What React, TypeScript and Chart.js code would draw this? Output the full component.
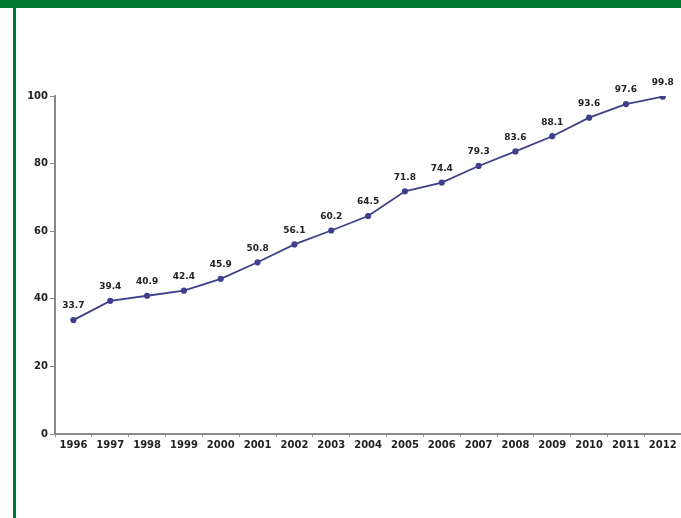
import React, { useEffect, useRef } from "react";
import { Chart, registerables } from "chart.js";

Chart.register(...registerables);

const years = ["1996","1997","1998","1999","2000","2001","2002","2003","2004","2005","2006","2007","2008","2009","2010","2011","2012"];
const values = [33.7, 39.4, 40.9, 42.4, 45.9, 50.8, 56.1, 60.2, 64.5, 71.8, 74.4, 79.3, 83.6, 88.1, 93.6, 97.6, 99.8];
const yTicks = [0, 20, 40, 60, 80, 100];

const LINE = "#3f3f8c";
const FONT = "'DejaVu Sans', sans-serif";

const labelPlugin = {
  id: "valueLabels",
  afterDatasetsDraw(chart: any) {
    const ctx = chart.ctx;
    const meta = chart.getDatasetMeta(0);
    ctx.save();
    ctx.font = `bold 9px ${FONT}`;
    ctx.fillStyle = "#222";
    ctx.textAlign = "center";
    ctx.textBaseline = "middle";
    meta.data.forEach((pt: any, i: number) => {
      ctx.fillText(values[i].toFixed(1), pt.x, pt.y - 14);
    });
    ctx.restore();
  },
};

export default function App() {
  const ref = useRef<HTMLCanvasElement>(null);
  useEffect(() => {
    document.body.style.margin = "0";
    const chart = new Chart(ref.current!, {
      type: "line",
      data: {
        labels: years,
        datasets: [
          {
            data: values,
            borderColor: LINE,
            backgroundColor: LINE,
            borderWidth: 1.8,
            pointRadius: 2.2,
            pointBackgroundColor: LINE,
            pointBorderColor: LINE,
            tension: 0,
          },
        ],
      },
      options: {
        animation: false,
        responsive: false,
        maintainAspectRatio: false,
        layout: { padding: { left: 20, top: 96, right: 0, bottom: 64 } },
        plugins: { legend: { display: false }, tooltip: { enabled: false } },
        scales: {
          x: {
            offset: true,
            grid: { display: true, drawOnChartArea: false, tickLength: 3, color: "#999", offset: true },
            border: { color: "#888", width: 2 },
            ticks: { font: { family: FONT, size: 10, weight: "bold" }, color: "#222", maxRotation: 0, autoSkip: false, padding: 2 },
            afterFit: (s: any) => { s.height = 20; },
          },
          y: {
            min: 0,
            max: 100,
            afterBuildTicks: (s: any) => { s.ticks = yTicks.map((v) => ({ value: v })); },
            grid: { display: true, drawOnChartArea: false, tickLength: 5, color: "#888" },
            border: { color: "#888", width: 2 },
            ticks: { font: { family: FONT, size: 10, weight: "bold" }, color: "#222", padding: 2 },
            afterFit: (s: any) => { s.width = 35; },
          },
        },
      },
      plugins: [labelPlugin],
    });
    return () => chart.destroy();
  }, []);
  return (
    <div style={{ position: "relative", width: 681, height: 518, background: "#fff", overflow: "hidden" }}>
      <canvas ref={ref} width={687} height={518} style={{ position: "absolute", left: 0, top: 0 }} />
      <div style={{ position: "absolute", left: 0, top: 0, width: 681, height: 8, background: "#007a33" }} />
      <div style={{ position: "absolute", left: 13, top: 0, width: 3, height: 518, background: "#007a33" }} />
    </div>
  );
}
